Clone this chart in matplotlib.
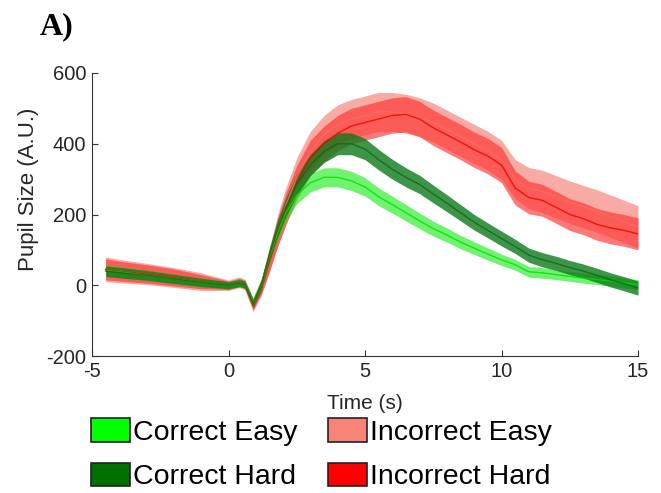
import matplotlib
matplotlib.use("Agg")
import matplotlib.pyplot as plt
from matplotlib.patches import Patch
import numpy as np

plt.rcParams['font.family'] = ['Liberation Sans', 'DejaVu Sans']
plt.rcParams['axes.unicode_minus'] = False

time_s = [-4.5, -4, -3, -2, -1, 0, 0.4, 0.6, 0.9, 1.2, 1.5, 1.8, 2.1, 2.5, 3, 3.5, 4,
          4.5, 5, 5.5, 6, 6.5, 7, 7.5, 8, 8.5, 9, 9.5, 10, 10.5, 11, 11.5, 12, 12.5,
          13, 13.5, 14, 14.5, 15]

correct_easy = [42, 38, 28, 18, 8, 0, 6, 2, -50, 0, 80, 150, 205, 255, 290, 305, 305,
                295, 278, 250, 228, 205, 182, 160, 142, 122, 105, 88, 72, 58, 38, 35,
                30, 25, 20, 16, 12, 6, 2]
correct_easy_err = [15, 15, 14, 13, 12, 10, 10, 10, 12, 15, 18, 22, 24, 25, 26, 27, 27,
                    27, 26, 25, 24, 23, 22, 21, 20, 19, 18, 17, 16, 15, 15, 15, 14, 14,
                    14, 14, 14, 14, 14]

correct_hard = [40, 36, 28, 18, 8, 0, 6, 2, -52, 0, 85, 160, 220, 285, 340, 378, 400,
                400, 385, 355, 328, 305, 285, 258, 232, 205, 178, 155, 132, 110, 85, 72,
                62, 50, 40, 28, 15, 4, -8]
correct_hard_err = [15, 15, 14, 13, 12, 10, 10, 10, 12, 15, 20, 24, 27, 29, 30, 31, 31,
                    31, 30, 29, 28, 27, 26, 25, 24, 23, 22, 21, 21, 20, 20, 20, 20, 20,
                    20, 20, 20, 20, 20]

incorrect_easy = [45, 40, 32, 22, 10, 0, 8, 2, -55, -5, 72, 155, 225, 305, 380, 425, 455,
                  470, 480, 490, 490, 485, 475, 460, 440, 420, 400, 380, 355, 300, 275,
                  265, 250, 235, 222, 210, 195, 180, 165]
incorrect_easy_err = [35, 33, 30, 28, 25, 15, 15, 15, 20, 25, 35, 45, 50, 55, 55, 55, 55,
                      55, 55, 55, 55, 55, 55, 55, 55, 55, 55, 55, 55, 55, 58, 60, 60, 60,
                      60, 60, 60, 60, 60]

incorrect_hard = [45, 40, 32, 22, 10, 0, 8, 2, -55, -5, 70, 150, 215, 290, 360, 400, 430,
                  450, 460, 470, 480, 483, 470, 445, 425, 405, 383, 365, 340, 275, 248,
                  240, 220, 200, 188, 172, 162, 155, 145]
incorrect_hard_err = [30, 28, 26, 24, 20, 12, 12, 12, 15, 20, 30, 40, 45, 48, 50, 50, 50,
                      50, 50, 50, 50, 50, 50, 50, 50, 50, 50, 50, 50, 48, 46, 45, 45, 45,
                      45, 45, 45, 45, 45]

labels = ["Correct Easy", "Correct Hard", "Incorrect Easy", "Incorrect Hard"]
x_ticks = [-5, 0, 5, 10, 15]
y_ticks = [-200, 0, 200, 400, 600]

fig = plt.figure(figsize=(6.61, 4.93), dpi=100)
ax = fig.add_axes([92/661, 1-356/493, (638-92)/661, (356-73)/493])

t = np.array(time_s)
series = [
    (incorrect_easy, incorrect_easy_err, '#f58f86', '#f07060', 0.75),
    (incorrect_hard, incorrect_hard_err, '#ff3030', '#ee0000', 0.65),
    (correct_easy, correct_easy_err, '#22ee22', '#00dd00', 0.65),
    (correct_hard, correct_hard_err, '#0d7a1a', '#0a6a10', 0.8),
]
for m, e, fc, lc, a in series:
    m = np.array(m, float); e = np.array(e, float)
    ax.fill_between(t, m - e, m + e, color=fc, alpha=a, lw=0)
    ax.plot(t, m, color=lc, lw=1.0, alpha=0.8)

ax.set_xlim(-5, 15)
ax.set_ylim(-200, 600)
ax.set_xticks(x_ticks)
ax.set_yticks(y_ticks)
for s in ['top', 'right']:
    ax.spines[s].set_visible(False)
for s in ['left', 'bottom']:
    ax.spines[s].set_color('#333333')
    ax.spines[s].set_linewidth(0.8)
ax.tick_params(direction='in', length=4, width=0.8, colors='#333333',
               labelsize=14.5, labelcolor='#262626', pad=4)
ax.set_xlabel("Time (s)", fontsize=15, color='#262626', labelpad=10)
ax.set_ylabel("Pupil Size (A.U.)", fontsize=16, color='#262626')
ax.yaxis.set_label_coords(-0.097, 0.59)

fig.text(40/661, 1-34/493, "A)", fontsize=23, fontweight='bold',
         family=['Liberation Serif', 'DejaVu Serif'])

legend_colors = ['#00ff00', '#007000', '#f88378', '#ff0000']
handles = [Patch(facecolor=c, edgecolor='#222222', linewidth=1.2) for c in legend_colors]
fig.legend(handles, labels, ncol=2, loc='upper left',
           bbox_to_anchor=(91/661, 1-418/493), frameon=False, fontsize=20.5,
           handlelength=1.37, handleheight=0.9, handletextpad=0.12,
           columnspacing=1.05, labelspacing=0.6, borderaxespad=0, borderpad=0)

fig.savefig("out.png", dpi=100)
